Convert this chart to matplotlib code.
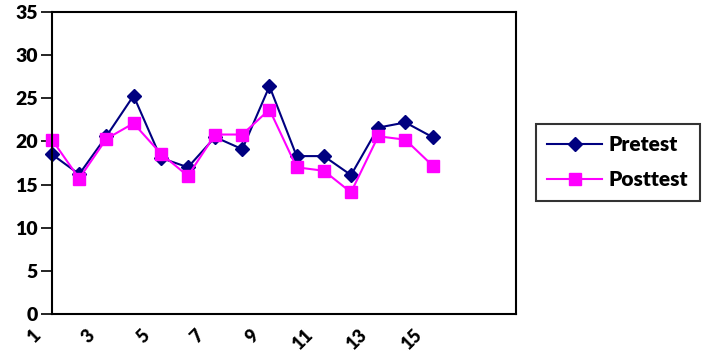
import matplotlib
matplotlib.use("Agg")
import matplotlib.pyplot as plt
from matplotlib.transforms import ScaledTranslation

x = list(range(1, 16))
pretest = [18.5, 16.2, 20.6, 25.3, 18.1, 17.0, 20.5, 19.1, 26.4, 18.3, 18.3, 16.1, 21.6, 22.2, 20.5]
posttest = [20.2, 15.7, 20.3, 22.1, 18.6, 16.0, 20.8, 20.8, 23.7, 17.0, 16.6, 14.1, 20.6, 20.2, 17.2]
xticks = [1, 3, 5, 7, 9, 11, 13, 15]
yticks = [0, 5, 10, 15, 20, 25, 30, 35]

plt.rcParams['font.family'] = ['Lato', 'DejaVu Sans']
plt.rcParams['font.weight'] = 'bold'

fig = plt.figure(figsize=(7.08, 3.55), dpi=100)
ax = fig.add_axes([52/708, 1 - 314/355, (516-52)/708, (314-12)/355])

ax.plot(x, pretest, color='#000080', marker='D', markersize=7, linewidth=1.5, label='Pretest', clip_on=False)
ax.plot(x, posttest, color='#FF00FF', marker='s', markersize=8, linewidth=1.5, label='Posttest', clip_on=False)

ax.set_xlim(1, 18.07)
ax.set_ylim(0, 35)
ax.set_yticks(yticks)
ax.set_xticks(xticks)
ax.set_xticklabels([str(t) for t in xticks], rotation=45, ha='right', va='top',
                   fontsize=13, fontweight='heavy')
ax.set_yticklabels([str(t) for t in yticks], fontsize=14, fontweight='heavy')
ax.tick_params(axis='x', length=0, pad=9)
ax.tick_params(axis='y', length=8, width=1.2, direction='out', pad=2)
off = ScaledTranslation(-8/100, 0, fig.dpi_scale_trans)
for lab in ax.get_xticklabels():
    lab.set_transform(lab.get_transform() + off)
for s in ax.spines.values():
    s.set_linewidth(1.5)
    s.set_color('black')

leg = fig.legend(loc='upper left', bbox_to_anchor=(536/708, 1 - 124/355), frameon=True,
                 fancybox=False, edgecolor='black', prop={'weight': 'heavy', 'size': 15},
                 handlelength=2.6, borderpad=0.55, labelspacing=0.75, handletextpad=0.35,
                 borderaxespad=0)
leg.get_frame().set_linewidth(1.5)

fig.savefig('out.png', dpi=100)
